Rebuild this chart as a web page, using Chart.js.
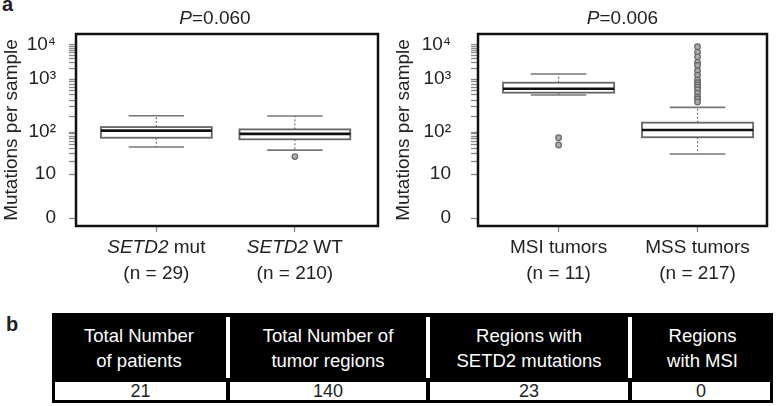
<!DOCTYPE html>
<html>
<head>
<meta charset="utf-8">
<script src="https://cdn.jsdelivr.net/npm/chart.js@4.4.1/dist/chart.umd.min.js"></script>
<style>
  html, body { margin: 0; padding: 0; background: #fff; }
  body { width: 780px; height: 406px; position: relative; overflow: hidden;
         font-family: "Liberation Sans", Arial, sans-serif; color: #222; }
  canvas { position: absolute; top: 0; }
  .panel { position: absolute; font-weight: bold; font-size: 20px; line-height: 20px; }
  .title, .xlab { position: absolute; width: 200px; text-align: center; font-size: 19px; white-space: nowrap; }
  .title { line-height: 24px; top: 6px; }
  .xlab { line-height: 26px; top: 234px; }
  #tbl { position: absolute; left: 52px; top: 313px; width: 721px; }
  .hrow { display: flex; background: #000; color: #fff; padding: 4px 0; height: 61px; }
  .hcell { box-sizing: border-box; display: flex; align-items: center; justify-content: center;
           text-align: center; font-size: 18.5px; line-height: 25px; }
  .hcell + .hcell { border-left: 4px solid #fff; }
  .vrow { display: flex; background: #000; padding: 0 3px 3px 3px; gap: 4px; }
  .vcell { background: #fff; height: 18px; line-height: 19px; text-align: center; font-size: 18px; }
</style>
</head>
<body>
<div class="panel" style="left:2px; top:-6px;">a</div>
<div class="panel" style="left:6px; top:314px;">b</div>
<canvas id="leftChart" width="390" height="290" style="left:0"></canvas>
<canvas id="rightChart" width="390" height="290" style="left:390px"></canvas>
<div id="tbl"></div>
<script>
// y axis ticks
const yMajorValues = [0, 10, 100, 1000, 10000];
const yTickLabels = ['0', '10', '10²', '10³', '10⁴'];
const yMinorValues = [20, 30, 40, 50, 60, 70, 80, 90,
                      200, 300, 400, 500, 600, 700, 800, 900,
                      2000, 3000, 4000, 5000, 6000, 7000, 8000, 9000];

// panel a, left: SETD2 status
const leftCategories = ['SETD2 mut', 'SETD2 WT'];
const leftN = [29, 210];
const leftP = '0.060';
const leftLow = [44, 37];
const leftQ1 = [73, 67];
const leftMedian = [106, 90];
const leftQ3 = [124, 112];
const leftHigh = [203, 200];
const leftOutliers = [[], [26]];

// panel a, right: MSI status
const rightCategories = ['MSI tumors', 'MSS tumors'];
const rightN = [11, 217];
const rightP = '0.006';
const rightLow = [499, 30];
const rightQ1 = [552, 75];
const rightMedian = [656, 109];
const rightQ3 = [851, 150];
const rightHigh = [1400, 292];
const rightOutliers = [[73, 49],
  [8900, 6100, 4500, 3100, 2500, 1750, 1300, 960, 850, 770, 700, 620, 540, 460, 420, 370]];

// panel b
const tableHeaders = [['Total Number', 'of patients'], ['Total Number of', 'tumor regions'],
                      ['Regions with', 'SETD2 mutations'], ['Regions', 'with MSI']];
const tableValues = [21, 140, 23, 0];

// the y axis of the figure: 0..10 linear, then one uneven step per decade
const decadeSteps = [0, 44, 86, 139, 173];
function toUnit(v) {
  if (v <= 10) return v / 10 * decadeSteps[1];
  const lg = Math.log10(v);
  const k = Math.min(Math.floor(lg), 3);
  return decadeSteps[k] + (lg - k) * (decadeSteps[k + 1] - decadeSteps[k]);
}
function fromUnit(u) {
  if (u <= decadeSteps[1]) return u / decadeSteps[1] * 10;
  let k = 1;
  while (k < 3 && u > decadeSteps[k + 1]) k++;
  return Math.pow(10, k + (u - decadeSteps[k]) / (decadeSteps[k + 1] - decadeSteps[k]));
}

class DecadeScale extends Chart.LinearScale {
  static id = 'decade';
  static defaults = Chart.LinearScale.defaults;
  determineDataLimits() { this.min = -8; this.max = 184; }
  buildTicks() {
    return yMajorValues.concat(yMinorValues).map(v => ({ value: v, major: yMajorValues.includes(v) }));
  }
  getPixelForValue(v) { return super.getPixelForValue(toUnit(v)); }
  getValueForPixel(p) { return fromUnit(super.getValueForPixel(p)); }
}
Chart.register(DecadeScale);

Chart.defaults.font.family = '"Liberation Sans", Arial, sans-serif';
Chart.defaults.color = '#222';

function line(ctx, x1, y1, x2, y2) {
  ctx.beginPath(); ctx.moveTo(x1, y1); ctx.lineTo(x2, y2); ctx.stroke();
}

function makeBoxPlugin(low, q1, median, q3, high) {
  return {
    id: 'boxPlot',
    beforeDatasetsDraw(chart) {
      const { ctx, scales: { x, y } } = chart;
      median.forEach((m, i) => {
        const c = i + 1;
        const cx = x.getPixelForValue(c);
        const bl = x.getPixelForValue(c - 0.4), br = x.getPixelForValue(c + 0.4);
        const cl = x.getPixelForValue(c - 0.2), cr = x.getPixelForValue(c + 0.2);
        const yLo = y.getPixelForValue(low[i]), yHi = y.getPixelForValue(high[i]);
        const yQ1 = y.getPixelForValue(q1[i]), yQ3 = y.getPixelForValue(q3[i]);
        const yMed = y.getPixelForValue(m);
        ctx.save();
        ctx.strokeStyle = '#777'; ctx.lineWidth = 1.2; ctx.setLineDash([2, 2]);
        line(ctx, cx, yQ3, cx, yHi);
        line(ctx, cx, yQ1, cx, yLo);
        ctx.setLineDash([]);
        ctx.strokeStyle = '#777'; ctx.lineWidth = 1.6;
        line(ctx, cl, yHi, cr, yHi);
        line(ctx, cl, yLo, cr, yLo);
        ctx.fillStyle = '#fff';
        ctx.fillRect(bl, yQ3, br - bl, yQ1 - yQ3);
        ctx.strokeStyle = '#666'; ctx.lineWidth = 1.8;
        ctx.strokeRect(bl, yQ3, br - bl, yQ1 - yQ3);
        ctx.strokeStyle = '#111'; ctx.lineWidth = 2.6;
        line(ctx, bl, yMed, br, yMed);
        ctx.restore();
      });
    }
  };
}

const framePlugin = {
  id: 'frame',
  afterDraw(chart) {
    const { ctx, chartArea: a } = chart;
    ctx.save();
    ctx.strokeStyle = '#111';
    ctx.lineWidth = 2.5;
    ctx.strokeRect(a.left, a.top, a.right - a.left, a.bottom - a.top);
    ctx.restore();
  }
};

function makeChart(id, cfg) {
  const points = [];
  cfg.outliers.forEach((vals, i) => vals.forEach(v => points.push({ x: i + 1, y: v })));
  return new Chart(document.getElementById(id), {
    type: 'scatter',
    data: {
      datasets: [{
        data: points,
        pointRadius: 2.8,
        borderWidth: 1.2,
        borderColor: '#666',
        backgroundColor: '#aaa'
      }]
    },
    options: {
      responsive: false,
      animation: false,
      layout: { padding: { top: 34, right: cfg.padRight, bottom: 0, left: 0 } },
      plugins: { legend: { display: false }, tooltip: { enabled: false } },
      scales: {
        x: {
          type: 'linear',
          min: 0.42,
          max: cfg.xMax,
          afterBuildTicks: s => { s.ticks = cfg.categories.map((c, i) => ({ value: i + 1 })); },
          ticks: { display: false },
          grid: { drawOnChartArea: false, tickLength: 6, tickColor: '#888', tickWidth: 1.3 },
          border: { display: false },
          afterFit: s => { s.height = 64; }
        },
        y: {
          type: 'decade',
          grid: { drawOnChartArea: false, tickLength: 7, tickColor: '#888', tickWidth: 1.3 },
          border: { display: false },
          ticks: {
            autoSkip: false,
            padding: cfg.tickPad,
            font: { size: 19 },
            callback: v => {
              const k = yMajorValues.indexOf(v);
              return k >= 0 ? yTickLabels[k] : '';
            }
          },
          title: {
            display: true,
            text: 'Mutations per sample',
            font: { size: 19 },
            padding: { top: cfg.titlePad, bottom: 0 }
          },
          afterFit: s => { s.width = cfg.axisWidth; }
        }
      }
    },
    plugins: [makeBoxPlugin(cfg.low, cfg.q1, cfg.median, cfg.q3, cfg.high), framePlugin]
  });
}

function addTexts(chart, left, categories, counts, pValue, titleShift) {
  const a = chart.chartArea;
  const t = document.createElement('div');
  t.className = 'title';
  t.style.left = (left + (a.left + a.right) / 2 + titleShift - 100) + 'px';
  t.innerHTML = '<i>P</i>=' + pValue;
  document.body.appendChild(t);
  categories.forEach((c, i) => {
    const d = document.createElement('div');
    d.className = 'xlab';
    d.style.left = (left + chart.scales.x.getPixelForValue(i + 1) - 100) + 'px';
    d.innerHTML = c.replace('SETD2', '<i>SETD2</i>') + '<br>(n = ' + counts[i] + ')';
    document.body.appendChild(d);
  });
}

const leftChart = makeChart('leftChart', {
  categories: leftCategories, low: leftLow, q1: leftQ1, median: leftMedian, q3: leftQ3,
  high: leftHigh, outliers: leftOutliers, xMax: 2.6, padRight: 12, axisWidth: 76, tickPad: 13, titlePad: 0
});
const rightChart = makeChart('rightChart', {
  categories: rightCategories, low: rightLow, q1: rightQ1, median: rightMedian, q3: rightQ3,
  high: rightHigh, outliers: rightOutliers, xMax: 2.5, padRight: 13, axisWidth: 88, tickPad: 20, titlePad: 2
});
addTexts(leftChart, 0, leftCategories, leftN, leftP, -12);
addTexts(rightChart, 390, rightCategories, rightN, rightP, 0);

// panel b table
const headWidths = [174, 200, 202, 145];
const valueWidths = [171, 196, 198, 138];
const tbl = document.getElementById('tbl');
const hrow = document.createElement('div');
hrow.className = 'hrow';
tableHeaders.forEach((h, i) => {
  const c = document.createElement('div');
  c.className = 'hcell';
  c.style.width = headWidths[i] + 'px';
  c.innerHTML = h.join('<br>');
  hrow.appendChild(c);
});
const vrow = document.createElement('div');
vrow.className = 'vrow';
tableValues.forEach((v, i) => {
  const c = document.createElement('div');
  c.className = 'vcell';
  c.style.width = valueWidths[i] + 'px';
  c.textContent = v;
  vrow.appendChild(c);
});
tbl.appendChild(hrow);
tbl.appendChild(vrow);
</script>
</body>
</html>
